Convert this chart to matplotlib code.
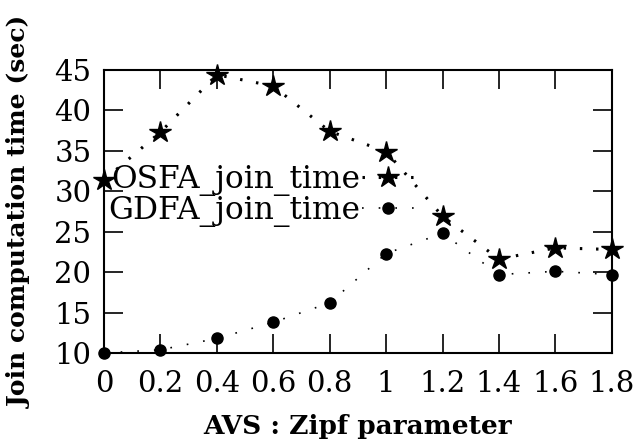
import matplotlib
matplotlib.use('Agg')
import matplotlib.pyplot as plt

# AVS zipf parameter vs join time (sec)
zipf = [0, 0.2, 0.4, 0.6, 0.8, 1.0, 1.2, 1.4, 1.6, 1.8]
osfa_time = [31.4, 37.3, 44.4, 43.0, 37.4, 34.9, 26.9, 21.6, 23.0, 22.8]
gdfa_time = [10.0, 10.4, 11.8, 13.8, 16.2, 22.3, 24.8, 19.7, 20.1, 19.7]

xticks = [0, 0.2, 0.4, 0.6, 0.8, 1.0, 1.2, 1.4, 1.6, 1.8]
xtick_labels = ['0', '0.2', '0.4', '0.6', '0.8', '1', '1.2', '1.4', '1.6', '1.8']
yticks = [10, 15, 20, 25, 30, 35, 40, 45]

plt.rcParams['font.family'] = ['DejaVu Serif']

fig = plt.figure(figsize=(6.38, 4.48), dpi=100)
ax = fig.add_axes([0.163, 0.212, 0.796, 0.632])

ax.plot(zipf, osfa_time, color='black', linestyle=(0, (0.8, 4.5)), linewidth=2.2,
        marker='*', markersize=16, label='OSFA_join_time', clip_on=False)
ax.plot(zipf, gdfa_time, color='black', linestyle=(0, (1, 9)), linewidth=1.2,
        marker='o', markersize=8, label='GDFA_join_time', clip_on=False)

ax.set_xlim(0, 1.8)
ax.set_ylim(10, 45)
ax.set_xticks(xticks)
ax.set_xticklabels(xtick_labels)
ax.set_yticks(yticks)

ax.tick_params(direction='in', length=14, width=1.2, labelsize=21,
               top=True, right=True, pad=12)
ax.tick_params(axis='y', pad=9)
for s in ax.spines.values():
    s.set_linewidth(1.5)

ax.set_xlabel('AVS : Zipf parameter', fontsize=19, fontweight='bold', labelpad=12)
ax.set_ylabel('Join computation time (sec)', fontsize=18, fontweight='bold', labelpad=16)

ax.legend(loc='upper left', bbox_to_anchor=(0.008, 0.669), frameon=False,
          markerfirst=False, fontsize=22.5, handlelength=1.7, handletextpad=0.05,
          labelspacing=-0.03, borderpad=0, borderaxespad=0)

fig.savefig('out.png', dpi=100)
